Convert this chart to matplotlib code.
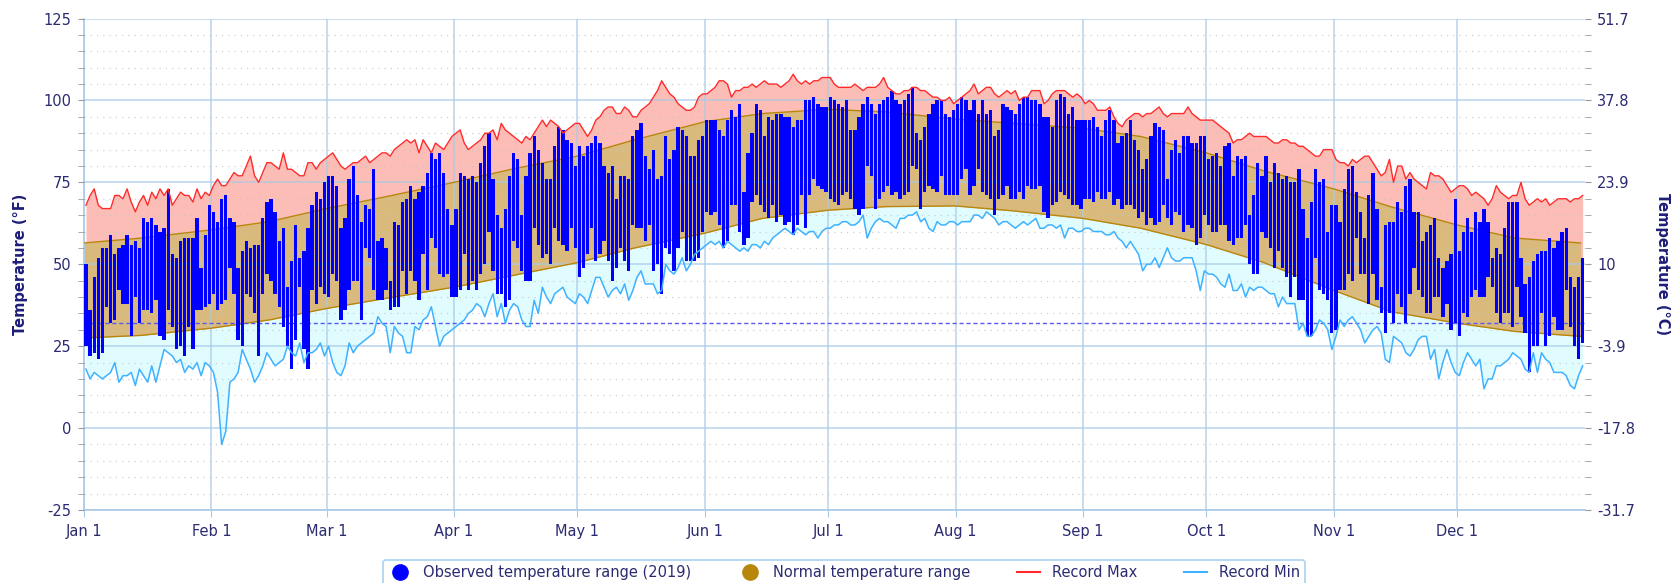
import matplotlib
matplotlib.use('Agg')
import matplotlib.pyplot as plt
from matplotlib.lines import Line2D
from matplotlib.ticker import MultipleLocator
import numpy as np
import pandas as pd

plt.rcParams['font.family'] = 'DejaVu Sans'
plt.rcParams['axes.unicode_minus'] = False

# observed 2019 daily highs / lows (F), one row per month
obs_high = [
    50,36,46,52,55,55,59,53,55,56,59,56,57,55,64,63,64,62,60,61,73,53,52,57,58,58,58,64,49,59,68,
    66,63,70,71,64,63,49,54,57,55,56,56,64,69,70,66,57,61,43,51,62,52,54,61,68,72,70,75,
    77,77,74,61,64,76,80,71,63,68,67,79,57,58,55,45,63,62,69,70,74,70,72,74,78,84,82,84,78,67,62,
    67,78,77,76,77,75,81,86,90,76,65,61,67,77,84,82,65,77,84,89,85,81,76,76,86,92,91,88,87,80,
    86,83,86,87,89,87,80,78,80,70,77,77,76,89,91,93,83,79,85,76,77,89,82,85,92,91,89,83,83,88,89,
    94,94,94,91,89,94,97,95,99,72,84,90,99,97,89,95,94,96,96,95,95,92,94,94,100,100,101,99,98,98,
    101,100,99,98,100,91,91,95,99,101,99,96,99,100,101,103,100,99,100,102,104,90,88,92,96,99,100,100,96,95,97,
    99,101,100,97,100,96,100,96,97,89,91,99,98,97,96,99,101,101,100,100,99,95,95,92,100,102,101,96,98,94,94,
    94,94,95,92,89,94,97,94,87,89,90,94,88,85,79,82,89,93,92,91,76,85,88,84,89,89,87,87,89,89,
    82,83,84,80,86,87,77,83,82,83,65,71,81,77,83,75,81,78,76,77,75,75,79,67,58,69,79,75,76,60,68,
    68,63,73,79,80,72,66,58,71,78,67,43,62,63,63,69,66,74,76,66,66,57,60,62,64,52,49,51,53,70,
    54,60,64,60,66,63,67,63,52,55,53,61,69,69,69,52,44,46,51,53,54,54,58,55,57,60,61,46,43,46,52,
]
obs_low = [
    25,22,23,21,23,37,32,33,42,38,38,28,40,32,36,36,35,39,28,27,36,31,24,25,22,31,24,36,36,37,38,
    41,36,38,39,49,41,27,25,41,40,35,22,41,47,45,41,37,31,25,18,27,43,24,18,42,38,43,41,
    40,47,45,33,36,42,45,45,33,55,52,42,39,39,42,36,37,37,48,41,48,45,39,53,42,58,55,47,46,47,40,
    40,42,53,42,45,42,47,50,60,48,41,41,37,39,57,55,48,45,45,61,56,52,53,50,61,57,56,54,61,55,
    46,49,53,61,51,53,57,51,45,49,55,51,48,62,61,61,57,62,48,50,41,55,53,48,55,60,51,51,51,52,60,
    66,65,66,62,55,57,68,68,60,56,58,69,71,68,66,64,68,63,65,62,63,59,62,71,61,71,76,74,73,72,
    70,69,68,71,72,70,67,65,67,80,77,67,70,72,74,71,72,70,71,72,80,79,67,72,74,73,72,77,71,71,71,
    71,76,79,71,74,79,72,71,70,65,70,71,74,70,70,72,70,74,73,73,74,66,64,68,69,72,71,70,68,68,67,
    70,70,69,72,70,70,72,68,70,67,68,68,67,64,66,62,64,62,63,68,64,62,66,65,60,62,61,56,58,65,
    62,60,60,62,62,57,56,58,58,62,50,47,47,60,58,55,49,54,49,46,40,46,39,39,28,28,52,42,41,39,29,
    30,42,42,47,45,58,47,47,38,47,39,35,29,35,32,41,37,32,41,49,42,40,35,35,40,40,34,38,30,32,
    28,35,34,40,42,40,40,46,43,35,32,35,35,31,43,34,29,17,25,25,35,25,28,34,30,30,42,31,25,21,26,
]
record_max = [
    68,71,73,68,67,67,67,71,71,70,73,69,66,69,71,68,72,70,73,71,73,68,70,72,71,71,69,73,70,72,71,
    74,76,74,74,76,78,77,77,80,83,77,75,78,81,81,80,79,84,79,79,78,77,77,81,81,79,81,82,
    83,84,82,80,79,80,81,81,82,83,81,82,83,84,84,83,85,86,87,88,87,88,84,88,86,84,87,86,85,87,89,
    90,91,87,85,86,87,88,90,90,91,88,93,91,90,89,88,87,89,88,90,92,94,92,94,93,92,90,91,92,93,
    93,91,89,91,94,95,97,98,98,96,96,98,97,95,95,97,98,99,101,103,106,104,102,101,99,98,97,97,98,101,102,
    102,103,104,106,106,105,101,103,103,104,104,105,104,105,106,105,105,105,104,105,106,108,106,105,106,105,106,106,107,107,
    107,105,104,104,104,104,105,104,103,104,104,104,105,107,104,103,102,102,103,103,104,104,103,103,102,101,101,100,100,101,99,
    100,101,102,103,105,102,103,104,104,102,101,102,103,102,103,100,101,101,103,103,103,99,100,102,103,103,103,102,101,102,101,
    99,100,99,97,97,97,98,95,93,92,94,95,96,96,95,96,96,97,98,96,95,96,96,96,96,98,96,95,94,94,
    94,94,93,92,91,90,87,88,88,89,90,89,89,89,89,88,87,87,88,88,87,87,86,86,85,84,83,83,85,85,85,
    82,81,81,80,82,81,82,83,83,81,79,77,78,82,75,80,80,76,78,76,75,74,73,78,77,77,76,74,72,73,
    74,74,73,71,72,71,70,68,70,74,72,71,70,71,71,75,70,68,69,70,69,70,68,69,70,70,70,69,70,70,71,
]
record_min = [
    18,15,17,16,15,16,17,20,14,16,16,17,13,18,16,14,19,14,19,24,23,22,20,21,17,19,18,20,16,20,19,
    17,11,-5,-1,14,15,17,24,21,18,14,16,19,23,21,19,20,21,25,23,22,26,20,23,23,24,26,22,
    25,20,17,16,19,26,23,25,26,27,28,29,34,32,31,23,31,29,28,23,23,31,30,33,34,37,31,25,28,29,30,
    31,32,33,35,36,38,37,34,38,41,34,38,32,36,38,37,33,31,31,39,35,43,40,38,41,42,43,40,39,38,
    41,40,38,42,46,46,43,40,42,43,41,44,39,42,46,48,44,44,44,41,42,50,48,47,49,52,48,50,53,54,55,
    56,57,56,57,55,57,56,55,54,55,54,56,56,55,57,56,58,59,60,61,60,59,61,60,59,60,60,58,60,61,
    61,62,62,63,63,62,62,63,65,58,61,63,64,63,63,62,61,64,64,65,65,66,63,64,61,60,63,62,62,63,63,
    62,63,63,63,65,65,64,66,65,64,62,63,63,62,61,62,63,62,63,64,61,61,62,62,61,62,58,61,61,60,60,
    61,61,60,60,60,59,59,60,58,57,55,57,55,53,48,50,50,52,49,52,55,52,51,51,52,52,52,48,42,48,
    47,47,46,44,43,47,42,42,44,40,43,42,43,43,42,41,41,37,40,38,38,38,30,32,28,28,30,33,32,30,24,
    28,33,31,33,34,32,30,26,28,30,31,29,21,20,28,27,26,23,22,24,27,28,28,21,24,15,20,24,20,17,
    16,20,23,21,19,21,12,15,15,19,19,20,21,23,22,21,18,17,23,17,23,21,20,17,17,17,16,13,12,16,19,
]

# normal range, read twice a month
normal_dates = ['2019-01-01', '2019-01-15', '2019-02-01', '2019-02-15', '2019-03-01', '2019-03-15',
                '2019-04-01', '2019-04-15', '2019-05-01', '2019-05-15', '2019-06-01', '2019-06-15',
                '2019-07-01', '2019-07-15', '2019-08-01', '2019-08-15', '2019-09-01', '2019-09-15',
                '2019-10-01', '2019-10-15', '2019-11-01', '2019-11-15', '2019-12-01', '2019-12-15',
                '2019-12-31']
normal_high = [56.5, 58, 60.5, 63, 67, 70.5, 75, 79, 83, 88, 93.5, 96, 97.3, 96.5, 94.3, 93, 91.5, 89,
               84, 78.5, 73, 67.5, 62, 58, 56.5]
normal_low = [27.5, 28.3, 30.5, 33, 36.5, 39.5, 43, 46.5, 50.5, 55, 59.5, 64, 66.5, 67.6, 67.8, 66.3, 64,
              61, 56, 50.5, 42, 35.5, 32, 29.5, 28]

f_ticks = [-25, 0, 25, 50, 75, 100, 125]
c_labels = ['-31.7', '-17.8', '-3.9', '10', '23.9', '37.8', '51.7']
month_labels = ['Jan 1', 'Feb 1', 'Mar 1', 'Apr 1', 'May 1', 'Jun 1',
                'Jul 1', 'Aug 1', 'Sep 1', 'Oct 1', 'Nov 1', 'Dec 1']

days = pd.date_range('2019-01-01', '2019-12-31', freq='D')
x = days + pd.Timedelta(hours=12)
hi = np.array(obs_high, dtype=float)
lo = np.array(obs_low, dtype=float)
rmax = np.array(record_max, dtype=float)
rmin = np.array(record_min, dtype=float)
nd = pd.to_datetime(normal_dates)

navy = '#2B2B72'
gridblue = '#A8CAE8'

fig = plt.figure(figsize=(16.75, 5.83), dpi=100)
ax = fig.add_axes((0.0501, 0.1252, 0.896, 0.843))

mid = (rmax + rmin) / 2
ax.fill_between(x, mid, rmax, color='#FBBDB5', lw=0, zorder=1)
ax.fill_between(x, rmin, mid, color='#E0FCFF', lw=0, zorder=1)
ax.fill_between(nd, normal_low, normal_high, color='#D9BA7C', lw=0, zorder=1.2)
ax.plot(nd, normal_high, color='#B8860B', lw=1, zorder=2.6)
ax.plot(nd, normal_low, color='#B8860B', lw=1, zorder=2.6)

ax.axhline(32, color='#5A5AF0', lw=1, ls=(0, (3, 2)), zorder=2.8)
ax.bar(x, hi - lo, bottom=lo, width=0.8, color='#0000FF', lw=0, zorder=3)
ax.plot(x, rmax, color='#FF2A2A', lw=1, zorder=4)
ax.plot(x, rmin, color='#3FB2FF', lw=1.1, zorder=4)

ax.set_xlim(pd.Timestamp('2019-01-01'), pd.Timestamp('2020-01-01'))
ax.set_ylim(-25, 125)
ax.set_yticks(f_ticks)
ax.yaxis.set_minor_locator(MultipleLocator(5))
ax.set_xticks(pd.date_range('2019-01-01', periods=12, freq='MS'))
ax.set_xticklabels(month_labels)

ax.set_axisbelow(False)
ax.grid(axis='y', which='major', color=gridblue, lw=1.2, alpha=0.75)
ax.grid(axis='y', which='minor', color='#C4C4C4', lw=0.9, ls=(0, (1, 4)), alpha=0.8)
ax.grid(axis='x', which='major', color=gridblue, lw=1.2, alpha=0.75)

for s in ['top', 'right']:
    ax.spines[s].set_visible(False)
for s in ['left', 'bottom']:
    ax.spines[s].set_color(gridblue)
    ax.spines[s].set_linewidth(1.2)

ax.tick_params(axis='y', which='both', length=4, color='#9A9A9A', labelsize=10.5, labelcolor=navy, pad=5)
ax.tick_params(axis='x', length=5, color=gridblue, labelsize=10.5, labelcolor=navy, pad=5)

ax.set_ylabel('Temperature (°F)', fontsize=10.5, fontweight='bold', color='#1E1E78')
ax.yaxis.set_label_coords(-0.037, 0.5)

ax2 = ax.twinx()
ax2.set_ylim(-25, 125)
ax2.set_yticks(f_ticks)
ax2.set_yticklabels(c_labels)
ax2.yaxis.set_minor_locator(MultipleLocator(5))
for s in ax2.spines.values():
    s.set_visible(False)
ax2.tick_params(axis='y', which='both', length=4, color='#9A9A9A', labelsize=10.5, labelcolor=navy, pad=5)
ax2.set_ylabel('Temperature (°C)', fontsize=10.5, fontweight='bold', color='#1E1E78', rotation=270)
ax2.yaxis.set_label_coords(1.0565, 0.5)

handles = [
    Line2D([], [], ls='', marker='o', ms=11, color='#0000FF'),
    Line2D([], [], ls='', marker='o', ms=11, color='#B8860B'),
    Line2D([], [], color='#FF2A2A', lw=1.5),
    Line2D([], [], color='#3FB2FF', lw=1.5),
]
labels = ['Observed temperature range (2019)', 'Normal temperature range', 'Record Max', 'Record Min']
leg = fig.legend(handles, labels, loc='upper center', bbox_to_anchor=(0.504, 0.039), ncol=4,
                 frameon=True, fancybox=True, edgecolor='#9CCBF0', fontsize=10.5, labelcolor=navy,
                 handlelength=1.6, handletextpad=0.8, columnspacing=3.2, borderpad=0.35,
                 borderaxespad=0)
leg.get_frame().set_linewidth(1.3)

fig.savefig('out.png', dpi=100)
